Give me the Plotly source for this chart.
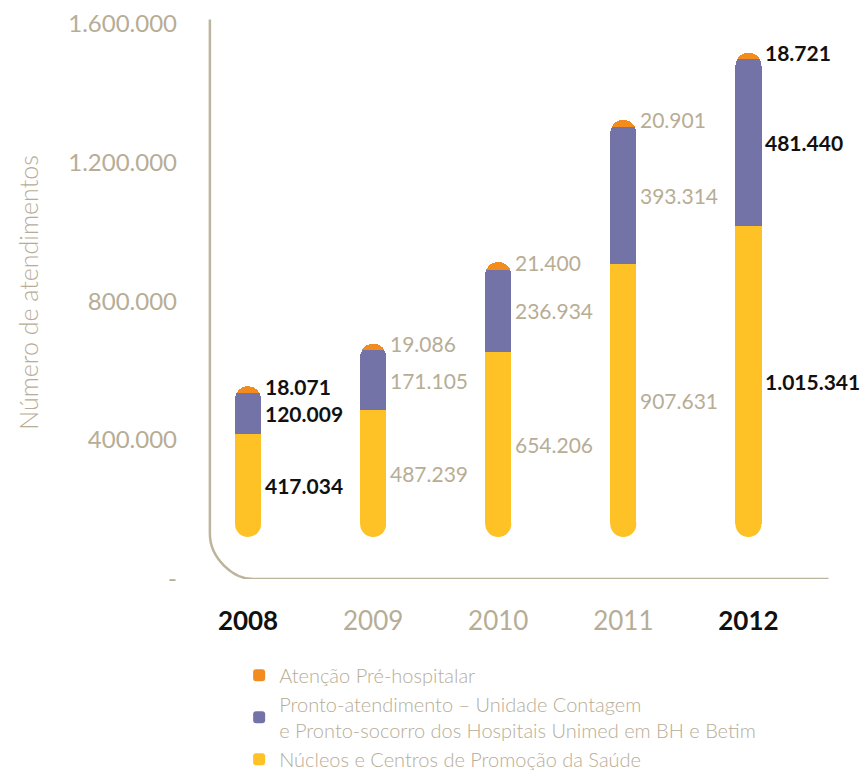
import plotly.graph_objects as go

# ---- data ----
years = [2008, 2009, 2010, 2011, 2012]
nucleos = [417034, 487239, 654206, 907631, 1015341]
pronto = [120009, 171105, 236934, 393314, 481440]
atencao = [18071, 19086, 21400, 20901, 18721]
highlight = [True, False, False, False, True]

series_names = [
    "Núcleos e Centros de Promoção da Saúde",
    "Pronto-atendimento – Unidade Contagem<br>e Pronto-socorro dos Hospitais Unimed em BH e Betim",
    "Atenção Pré-hospitalar",
]
y_tickvals = [0, 400000, 800000, 1200000, 1600000]
y_ticktext = ["-", "400.000", "800.000", "1.200.000", "1.600.000"]
y_title = "Número de atendimentos"

# ---- style ----
YELLOW = "#fec227"
PURPLE = "#7473a8"
ORANGE = "#f38c1f"
BEIGE = "#b7ad96"
AXIS = "#bdb49e"
DARK = "#111111"
FONT = "Lato"
BAR_W = 0.21
BAR_FLOOR = 121000   # visual bottom of the rounded bars
CAP = 37500          # radius of the rounded bottom, in data units
Y_MAX = 1650000


def fmt(v):
    return f"{v:,}".replace(",", ".")


fig = go.Figure()

no_line = dict(width=0)
# invisible spacer so bars start at the rounded floor
fig.add_trace(go.Bar(x=years, y=[BAR_FLOOR + CAP] * len(years), width=BAR_W,
                     marker=dict(color="rgba(0,0,0,0)", line=no_line),
                     showlegend=False, hoverinfo="skip"))
fig.add_trace(go.Bar(x=years, y=[v - BAR_FLOOR - CAP for v in nucleos], width=BAR_W,
                     marker=dict(color=YELLOW, line=no_line), name=series_names[0]))
fig.add_trace(go.Bar(x=years, y=pronto, width=BAR_W,
                     marker=dict(color=PURPLE, line=no_line), name=series_names[1]))
fig.add_trace(go.Bar(x=years, y=atencao, width=BAR_W,
                     marker=dict(color=ORANGE, line=no_line), name=series_names[2]))
# rounded bottom caps
fig.add_trace(go.Scatter(x=years, y=[BAR_FLOOR + CAP] * len(years), mode="markers",
                         marker=dict(size=26, color=YELLOW, line_width=0),
                         showlegend=False, hoverinfo="skip"))

# value labels
annotations = []
for i, yr in enumerate(years):
    hl = highlight[i]
    font = dict(family=FONT, size=21, color=DARK if hl else BEIGE,
                weight=700 if hl else 400)
    label_pos = [
        ((BAR_FLOOR + nucleos[i]) / 2, nucleos[i]),
        (nucleos[i] + pronto[i] / 2, pronto[i]),
        (nucleos[i] + pronto[i] + atencao[i], atencao[i]),
    ]
    for ypos, val in label_pos:
        annotations.append(dict(x=yr, y=ypos, xref="x", yref="y", text=fmt(val),
                                showarrow=False, xanchor="left", yanchor="middle",
                                xshift=15, font=font))

x_ticktext = [
    f"<b><span style='color:{DARK}'>{y}</span></b>" if hl else str(y)
    for y, hl in zip(years, highlight)
]

# rounded axis line (vertical + corner + horizontal)
AX_LEFT, AX_TOP = 2007.695, 1611000
CORNER_Y, CORNER_X, AX_RIGHT = 130000, 2008.04, 2012.64
path = (f"M {AX_LEFT},{AX_TOP} L {AX_LEFT},{CORNER_Y} "
        f"C {AX_LEFT},{CORNER_Y*0.448} {AX_LEFT + (CORNER_X-AX_LEFT)*0.552},0 {CORNER_X},0 "
        f"L {AX_RIGHT},0")

fig.update_layout(
    width=864, height=772,
    margin=dict(l=198, r=28, t=6, b=193, autoexpand=False),
    paper_bgcolor="white", plot_bgcolor="white",
    barmode="stack", barcornerradius=13,
    font=dict(family=FONT, color=BEIGE),
    annotations=annotations,
    shapes=[dict(type="path", path=path, xref="x", yref="y",
                 line=dict(color=AXIS, width=2.5), layer="below")],
    showlegend=True,
    legend=dict(x=0.0645, y=-0.134, xanchor="left", yanchor="top",
                traceorder="reversed", font=dict(family=FONT, size=20, color=BEIGE, weight=300),
                bgcolor="rgba(0,0,0,0)", itemclick=False, tracegroupgap=0),
    xaxis=dict(range=[2007.6, 2012.7], tickvals=years, ticktext=x_ticktext,
               showgrid=False, zeroline=False, showline=False, ticks="", automargin=False,
               tickfont=dict(family=FONT, size=26, color=BEIGE), ticklabelstandoff=24),
    yaxis=dict(range=[0, Y_MAX], tickvals=y_tickvals, ticktext=y_ticktext,
               showgrid=False, zeroline=False, showline=False, ticks="", automargin=False,
               tickfont=dict(family=FONT, size=24, color=BEIGE), ticklabelstandoff=20,
               title=dict(text=y_title, font=dict(family=FONT, size=25, color=BEIGE, weight=300),
                          standoff=22)),
)

fig.write_html("out.html", config={"displayModeBar": False},
               post_script="document.body.style.margin='0';")
